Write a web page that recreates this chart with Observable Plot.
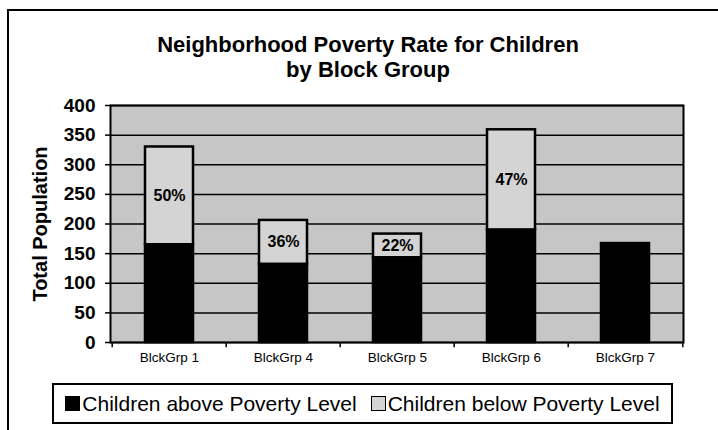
<!DOCTYPE html>
<html>
<head>
<meta charset="utf-8">
<script src="https://cdn.jsdelivr.net/npm/d3@7"></script>
<script src="https://cdn.jsdelivr.net/npm/@observablehq/plot@0.6"></script>
<style>
  html, body { margin: 0; padding: 0; background: #fff; overflow: hidden; }
  body { width: 718px; height: 430px; position: relative; font-family: "Liberation Sans", Arial, sans-serif; }
  #frame { position: absolute; left: 7px; top: 9px; width: 900px; height: 600px; border-left: 2px solid #000; border-top: 2px solid #000; box-sizing: border-box; }
  #title { position: absolute; left: 0; top: 32px; width: 736px; text-align: center; font-weight: bold; font-size: 22px; line-height: 25px; color: #000; }
  #chart { position: absolute; left: 0; top: 0; }
  #legend { position: absolute; left: 52px; top: 383px; width: 621px; height: 41px; border: 2px solid #000; box-sizing: border-box; background: #fff; display: flex; align-items: center; justify-content: center; gap: 14px; font-size: 21px; color: #000; white-space: nowrap; }
  .item { display: flex; align-items: center; gap: 2px; }
  .sw { width: 15px; height: 15px; border: 1.5px solid #000; box-sizing: border-box; }
</style>
</head>
<body>
<div id="frame"></div>
<div id="chart"></div>
<div id="title">Neighborhood Poverty Rate for Children<br>by Block Group</div>
<div id="legend"></div>
<script>
const groups = ["BlckGrp 1", "BlckGrp 4", "BlckGrp 5", "BlckGrp 6", "BlckGrp 7"];
const aboveValues = [165, 132, 143, 190, 167];
const belowValues = [165, 74, 40, 169, 0];
const pctLabels = ["50%", "36%", "22%", "47%", ""];
const seriesNames = ["Children above Poverty Level", "Children below Poverty Level"];
const seriesColors = ["#000000", "#d4d4d4"];
const yTicks = [0, 50, 100, 150, 200, 250, 300, 350, 400];
const yLabel = "Total Population";

const data = groups.flatMap((g, i) => [
  {grp: g, series: seriesNames[0], value: aboveValues[i]},
  {grp: g, series: seriesNames[1], value: belowValues[i]}
]).filter(d => d.value > 0);

const labelData = groups.map((g, i) => ({grp: g, y: aboveValues[i] + belowValues[i] / 2, label: pctLabels[i]}))
  .filter(d => d.label);

const W = 718, mL = 110, mR = 35;
const step = (W - mL - mR) / groups.length;

const chart = Plot.plot({
  width: W,
  height: 380,
  marginLeft: mL,
  marginRight: mR,
  marginTop: 105,
  marginBottom: 38,
  style: {fontFamily: "'Liberation Sans', Arial, sans-serif", background: "transparent", color: "#000", overflow: "visible"},
  x: {type: "band", domain: groups, paddingInner: 0.58, paddingOuter: 0.29, label: null},
  y: {domain: [0, 400], label: null},
  color: {domain: seriesNames, range: seriesColors},
  marks: [
    Plot.frame({fill: "#c6c6c6", stroke: null}),
    Plot.gridY(yTicks, {stroke: "#000", strokeOpacity: 1, strokeWidth: 1.5}),
    Plot.barY(data, {x: "grp", y: "value", fill: "series", stroke: "#000", strokeWidth: 2.5}),
    Plot.text(labelData, {x: "grp", y: "y", text: "label", fontSize: 16, fontWeight: "bold", fill: "#000"}),
    Plot.frame({stroke: "#000", strokeWidth: 2}),
    Plot.axisY(yTicks, {tickSize: 5, tickPadding: 10, fontSize: 19, fontWeight: "bold", label: null, strokeWidth: 1.5}),
    Plot.axisX({tickSize: 0, tickPadding: 10, fontSize: 13.5, label: null}),
    Plot.ruleX(groups, {x: d => d, dx: -step / 2, y1: 0, y2: -9, stroke: "#000", strokeWidth: 1.5}),
    Plot.ruleX(groups.slice(-1), {x: d => d, dx: step / 2, y1: 0, y2: -9, stroke: "#000", strokeWidth: 1.5}),
    Plot.text([yLabel], {frameAnchor: "left", textAnchor: "middle", dx: -70, rotate: -90, fontSize: 20, fontWeight: "bold", fill: "#000"})
  ]
});
document.getElementById("chart").appendChild(chart);

const legend = document.getElementById("legend");
seriesNames.forEach((name, i) => {
  const item = document.createElement("div");
  item.className = "item";
  const sw = document.createElement("div");
  sw.className = "sw";
  sw.style.background = seriesColors[i];
  const label = document.createElement("span");
  label.textContent = name;
  item.appendChild(sw);
  item.appendChild(label);
  legend.appendChild(item);
});
</script>
</body>
</html>
